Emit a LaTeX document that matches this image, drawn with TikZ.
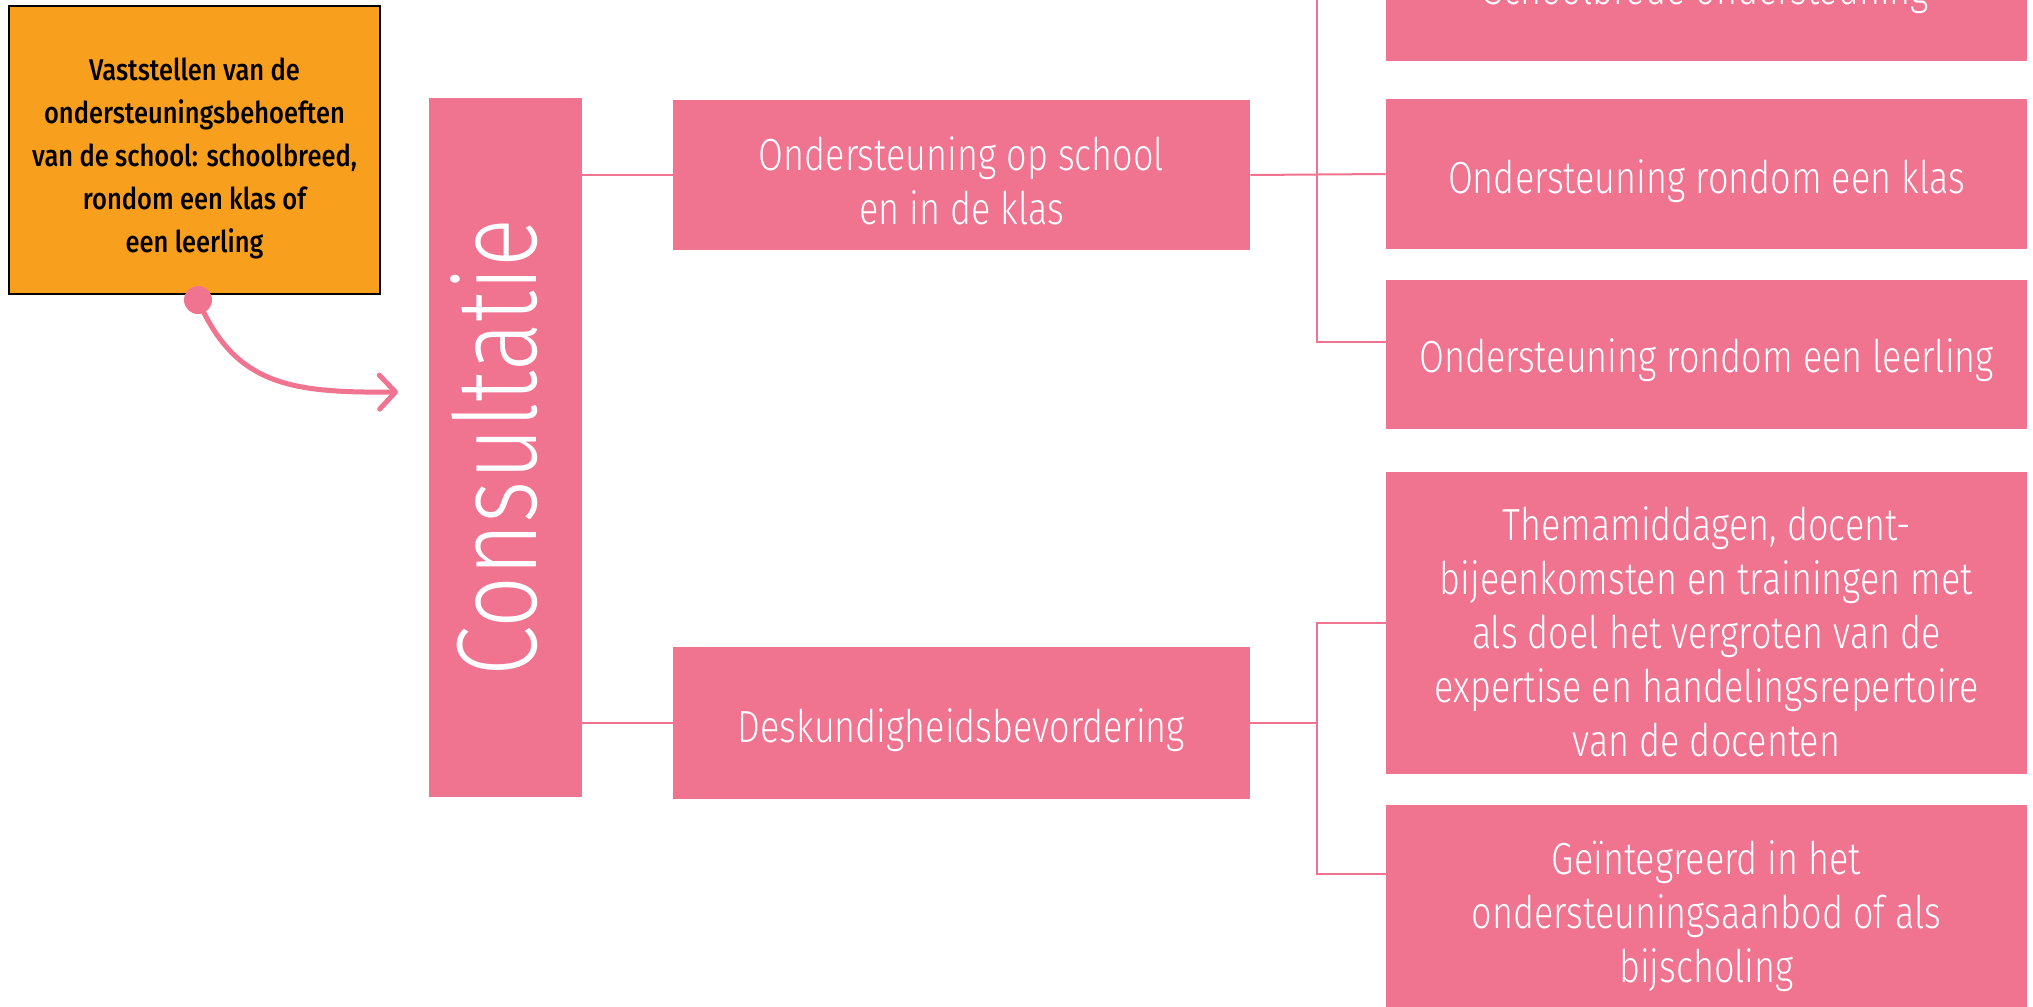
\documentclass[tikz,border=0pt]{standalone}
\usepackage{fontspec}
\setmainfont{Fira Sans}[UprightFont=* Light, BoldFont=* Medium, FakeStretch=0.8]
\newfontfamily\vetfont{Fira Sans}[UprightFont=* Medium, FakeStretch=0.85]
\usetikzlibrary{arrows.meta}
\definecolor{roze}{RGB}{240,115,144}
\definecolor{oranje}{RGB}{248,160,30}
\tikzset{>=stealth}
\tikzset{
  blok/.style={fill=roze, text=white, align=center, inner sep=0pt,
    font=\fontsize{22.5}{27}\selectfont},
  balk/.style={fill=roze, text=white, inner sep=0pt, rotate=90,
    font=\fontsize{57}{57}\selectfont, text depth=12pt},
  lijn/.style={draw=roze, line width=1pt},
}

\begin{document}
\begin{tikzpicture}[x=0.5pt, y=-0.5pt]
    \useasboundingbox (0,0) rectangle (2033,1006);
    \node[draw=black, line width=1.3pt, fill=oranje, minimum width=185.5pt, minimum height=144pt, align=center, inner sep=0pt, font=\vetfont\fontsize{15}{21.5}\selectfont] (V) at (194.5,150) {\rule{0pt}{20pt}Vaststellen van de\\ondersteuningsbehoeften\\van de school: schoolbreed,\\rondom een klas of\\een leerling};
    \node[balk, minimum width=349.5pt, minimum height=76.5pt] (C) at (505.5,447.5) {Consultatie};
    \node[blok, minimum width=288.5pt, minimum height=75pt] (OS) at (961.5,175) {\rule{0pt}{23pt}Ondersteuning op school\\en in de klas};
    \node[blok, minimum width=288.5pt, minimum height=76pt] (D) at (961.5,723) {\rule{0pt}{24pt}Deskundigheidsbevordering};
    \node[blok, minimum width=320.5pt, minimum height=74.5pt] (S) at (1706.5,-13.5) {\rule{0pt}{23pt}Schoolbrede ondersteuning};
    \node[blok, minimum width=320.5pt, minimum height=75pt] (K) at (1706.5,174) {\rule{0pt}{24pt}Ondersteuning rondom een klas};
    \node[blok, minimum width=320.5pt, minimum height=74.5pt] (L) at (1706.5,354.5) {\rule{0pt}{23pt}Ondersteuning rondom een leerling};
    \node[blok, minimum width=320.5pt, minimum height=151pt] (T) at (1706.5,623) {\rule{0pt}{25.5pt}Themamiddagen, docent-\\bijeenkomsten en trainingen met\\als doel het vergroten van de\\expertise en handelingsrepertoire\\van de docenten};
    \node[blok, minimum width=320.5pt, minimum height=109pt] (G) at (1706.5,914) {\rule{0pt}{19.5pt}Geïntegreerd in het\\ondersteuningsaanbod of als\\bijscholing};
    \coordinate (J1) at (1317,175);
    \coordinate (J2) at (1317,723);
    \draw[lijn] (OS.west) -- (OS.west -| C.south);
    \draw[lijn] (D.west) -- (D.west -| C.south);
    \draw[lijn] (OS.east) -- (K.west);
    \draw[lijn] (J1) |- (S.west);
    \draw[lijn] (J1) |- ([yshift=6.25pt]L.west);
    \draw[lijn] (D.east) -- (J2);
    \draw[lijn] (J2) |- (T.west);
    \draw[lijn] (J2) |- ([yshift=20pt]G.west);
    \node[circle, fill=roze, inner sep=0pt, minimum size=14pt] (P) at (198,300) {};
    \coordinate (A) at (398,392);
    \draw[roze, line width=2.5pt, line cap=round, -{Straight Barb[length=8pt, width=17pt, round]}] (P.center) .. controls (235,385) and (290,393) .. (A);
\end{tikzpicture}
\end{document}
